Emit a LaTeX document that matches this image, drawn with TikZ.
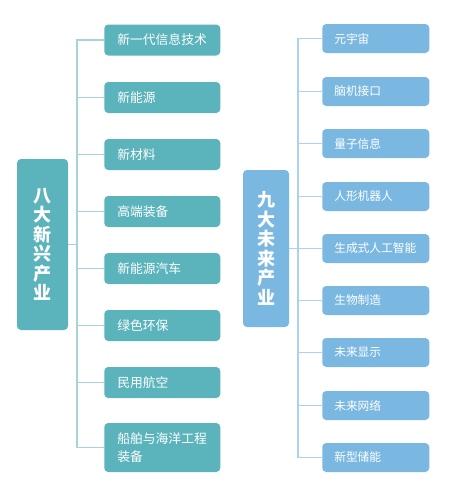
\documentclass[tikz,border=0pt]{standalone}
\usepackage{fontspec}
\setmainfont{Noto Sans CJK SC}
\usepackage{tikz}
\usetikzlibrary{positioning, calc}
\definecolor{myteal}{HTML}{5BB3BB}
\definecolor{mytealline}{HTML}{A6D4D8}
\definecolor{myblue}{HTML}{7AB8E2}
\definecolor{myblueline}{HTML}{ACD3EE}
\tikzset{
	rootnode/.style={
			shape=rectangle,
			rounded corners=3pt,
			text=white,
			align=center,
			inner sep=0pt,
			font=\bfseries\fontsize{13.5}{14.6}\selectfont
		},
	leftroot/.style={
			rootnode,
			fill=myteal,
			minimum width=38.25pt,
			minimum height=128.25pt
		},
	rightroot/.style={
			rootnode,
			fill=myblue,
			minimum width=34.5pt,
			minimum height=117.75pt
		},
	leftnode/.style={
			shape=rectangle,
			anchor=west,
			rounded corners=3pt,
			fill=myteal,
			text=white,
			align=left,
			text width=67.5pt,
			inner xsep=9.75pt,
			inner ysep=0pt,
			minimum height=23.25pt,
			font=\fontsize{9.6}{14}\selectfont
		},
	rightnode/.style={
			shape=rectangle,
			anchor=west,
			rounded corners=3pt,
			fill=myblue,
			text=white,
			align=left,
			text width=62.25pt,
			inner xsep=9pt,
			inner ysep=0pt,
			minimum height=21.75pt,
			font=\fontsize{8.8}{12}\selectfont
		},
	leftline/.style={draw=mytealline, line width=0.9pt},
	rightline/.style={draw=myblueline, line width=0.9pt}
}

\begin{document}
\begin{tikzpicture}[x=0.75pt, y=-0.75pt]

  \useasboundingbox (0,0) rectangle (458,500);

  % bus lines
  \coordinate (lbus) at (77,0);
  \coordinate (rbus) at (298,0);

  % eight emerging industries
  \node[leftroot] (lroot) at (42.5,244.5) {八\\大\\新\\兴\\产\\业};

  \node[leftnode] (l1) at (104,40) {新一代信息技术};
  \node[leftnode] (l2) at (104,97.5) {新能源};
  \node[leftnode] (l3) at (104,154.5) {新材料};
  \node[leftnode] (l4) at (104,211.5) {高端装备};
  \node[leftnode] (l5) at (104,268.5) {新能源汽车};
  \node[leftnode] (l6) at (104,325.5) {绿色环保};
  \node[leftnode] (l7) at (104,382.5) {民用航空};
  \node[leftnode, minimum height=36.75pt] (l8) at (104,447.5) {船舶与海洋工程\\装备};

  % nine future industries
  \node[rightroot] (rroot) at (266,248.5) {九\\大\\未\\来\\产\\业};

  \node[rightnode] (r1) at (322,38.5) {元宇宙};
  \node[rightnode] (r2) at (322,91.5) {脑机接口};
  \node[rightnode] (r3) at (322,143.5) {量子信息};
  \node[rightnode] (r4) at (322,196.5) {人形机器人};
  \node[rightnode] (r5) at (322,248.5) {生成式人工智能};
  \node[rightnode] (r6) at (322,300.5) {生物制造};
  \node[rightnode] (r7) at (322,352.5) {未来显示};
  \node[rightnode] (r8) at (322,405.5) {未来网络};
  \node[rightnode] (r9) at (322,457.5) {新型储能};

  % left connectors
  \draw[leftline] (l1.west) -- (l1.west -| lbus) -- (l8.west -| lbus) -- (l8.west);
  \draw[leftline] (lroot.east) -- (lroot.east -| lbus);
  \draw[leftline] (l2.west) -- (l2.west -| lbus);
  \draw[leftline] (l3.west) -- (l3.west -| lbus);
  \draw[leftline] (l4.west) -- (l4.west -| lbus);
  \draw[leftline] (l5.west) -- (l5.west -| lbus);
  \draw[leftline] (l6.west) -- (l6.west -| lbus);
  \draw[leftline] (l7.west) -- (l7.west -| lbus);

  % right connectors
  \draw[rightline] (r1.west) -- (r1.west -| rbus) -- (r9.west -| rbus) -- (r9.west);
  \draw[rightline] (rroot.east) -- (rroot.east -| rbus);
  \draw[rightline] (r2.west) -- (r2.west -| rbus);
  \draw[rightline] (r3.west) -- (r3.west -| rbus);
  \draw[rightline] (r4.west) -- (r4.west -| rbus);
  \draw[rightline] (r5.west) -- (r5.west -| rbus);
  \draw[rightline] (r6.west) -- (r6.west -| rbus);
  \draw[rightline] (r7.west) -- (r7.west -| rbus);
  \draw[rightline] (r8.west) -- (r8.west -| rbus);

\end{tikzpicture}
\end{document}
